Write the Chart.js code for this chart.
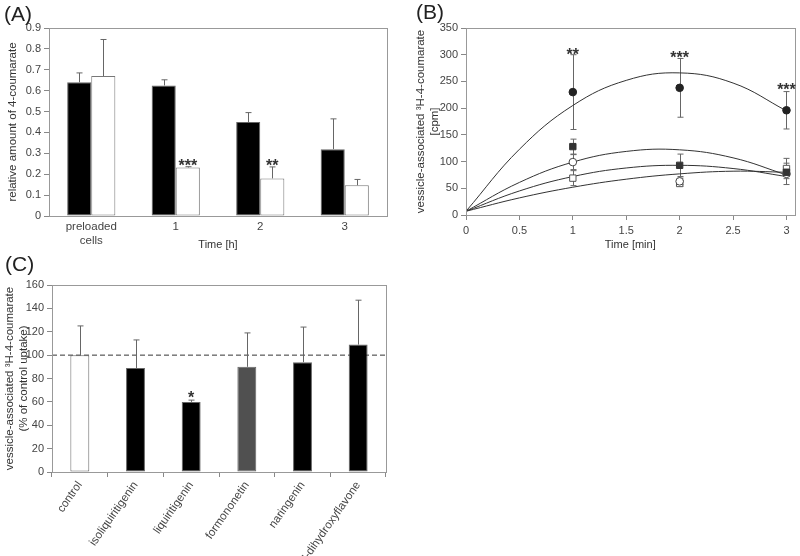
<!DOCTYPE html>
<html>
<head>
<meta charset="utf-8">
<script src="https://cdn.jsdelivr.net/npm/chart.js@4"></script>
<style>
  body { margin: 0; background: #fff; width: 800px; height: 556px; position: relative; overflow: hidden;
         font-family: "Liberation Sans", Arial, sans-serif; }
  canvas { position: absolute; }
  .lbl { position: absolute; font-size: 21px; color: #222; line-height: 1; }
</style>
</head>
<body>
<canvas id="chartA" width="400" height="262" style="left:0;top:0"></canvas>
<canvas id="chartB" width="400" height="262" style="left:400px;top:0"></canvas>
<canvas id="chartC" width="400" height="294" style="left:0;top:262px"></canvas>
<div class="lbl" style="left:4px;top:3px">(A)</div>
<div class="lbl" style="left:416px;top:1px">(B)</div>
<div class="lbl" style="left:5px;top:253px">(C)</div>
<script>
// (A) relative amount of 4-coumarate over time
const aLabels = [["preloaded", "cells"], "1", "2", "3"];
const aBlack = [0.64, 0.625, 0.45, 0.32];
const aBlackErr = [0.045, 0.027, 0.045, 0.145];
const aWhite = [0.67, 0.232, 0.18, 0.147];
const aWhiteErr = [0.175, 0.004, 0.055, 0.028];

// (B) vesicle uptake, cpm
const bTimes = [1, 2, 3];
const bFilledCircle = [230, 238, 196];
const bFilledCircleErr = [70, 55, 35];
const bFilledSquare = [128, 93, 80];
const bFilledSquareErr = [14, 21, 8];
const bOpenCircle = [99, 63, 77];
const bOpenCircleErr = [14, 6, 20];
const bOpenSquare = [69, 59, 87];
const bOpenSquareErr = [14, 5, 19];
const bFitX = [0, 0.5, 1, 1.5, 2, 2.5, 3];
const bFit1 = [7, 123, 205, 252, 266, 247, 195];
const bFit2 = [7, 61, 99, 119, 122, 107, 75];
const bFit3 = [7, 45, 72, 88, 93, 87, 72];
const bFit4 = [7, 32, 52, 67, 77, 82, 80];

// (C) % of control uptake
const cLabels = ["control", "isoliquiritigenin", "liquiritigenin", "formononetin", "naringenin", "7,4'-dihydroxyflavone"];
const cValues = [100, 89, 60, 90, 94, 109];
const cErr = [25, 24, 1.5, 29, 30, 38];
const cColors = ["#ffffff", "#000000", "#000000", "#505050", "#000000", "#000000"];
const cRefLine = 100;

Chart.defaults.font.family = '"Liberation Sans", Arial, sans-serif';
Chart.defaults.font.size = 11;
Chart.defaults.color = "#444";
Chart.defaults.animation = false;
Chart.defaults.plugins.legend.display = false;
Chart.defaults.plugins.tooltip.enabled = false;

const extras = {
  id: "extras",
  beforeDatasetsDraw(chart, args, opts) {
    const ctx = chart.ctx;
    const ys = chart.scales.y;
    const area = chart.chartArea;
    ctx.save();
    if (opts.refLine != null) {
      const py = ys.getPixelForValue(opts.refLine);
      ctx.strokeStyle = "#333";
      ctx.lineWidth = 1;
      ctx.setLineDash([5, 3]);
      ctx.beginPath();
      ctx.moveTo(area.left, py);
      ctx.lineTo(area.right, py);
      ctx.stroke();
      ctx.setLineDash([]);
    }
    ctx.strokeStyle = "#666";
    ctx.lineWidth = 1;
    (opts.errors || []).forEach(e => {
      const ds = chart.data.datasets[e.dataset];
      chart.getDatasetMeta(e.dataset).data.forEach((el, i) => {
        const raw = ds.data[i];
        const v = typeof raw === "object" ? raw.y : raw;
        const x = Math.round(el.x) + 0.5;
        const top = ys.getPixelForValue(v + e.err[i]);
        const bot = e.both ? ys.getPixelForValue(v - e.err[i]) : el.y;
        ctx.beginPath();
        ctx.moveTo(x, bot);
        ctx.lineTo(x, top);
        ctx.moveTo(x - 3, top);
        ctx.lineTo(x + 3, top);
        if (e.both) {
          ctx.moveTo(x - 3, bot);
          ctx.lineTo(x + 3, bot);
        }
        ctx.stroke();
      });
    });
    ctx.restore();
  },
  afterDatasetsDraw(chart, args, opts) {
    const ctx = chart.ctx;
    const a = chart.chartArea;
    ctx.save();
    ctx.strokeStyle = "#999";
    ctx.lineWidth = 1;
    ctx.strokeRect(Math.round(a.left) + 0.5, Math.round(a.top) + 0.5,
                   Math.round(a.right - a.left), Math.round(a.bottom - a.top));
    ctx.fillStyle = "#333";
    ctx.font = 'bold 16px "Liberation Sans", Arial, sans-serif';
    ctx.textAlign = "center";
    ctx.textBaseline = "middle";
    (opts.stars || []).forEach(s => {
      const x = s.dataset != null
        ? chart.getDatasetMeta(s.dataset).data[s.index].x
        : chart.scales.x.getPixelForValue(s.x);
      ctx.fillText(s.text, x, chart.scales.y.getPixelForValue(s.y));
    });
    ctx.restore();
  }
};

const tickGrid = { drawOnChartArea: false, tickLength: 5, color: "#888" };
const axisBorder = { color: "#888" };
const titleFont = { size: 11.5 };

// ---- (A)
new Chart(document.getElementById("chartA"), {
  type: "bar",
  data: {
    labels: aLabels,
    datasets: [
      { data: aBlack, backgroundColor: "#000", borderColor: "#666", borderWidth: 1, borderSkipped: false,
        barPercentage: 1, categoryPercentage: 0.57 },
      { data: aWhite, backgroundColor: "#fff", borderColor: "#777", borderWidth: 1, borderSkipped: false,
        barPercentage: 1, categoryPercentage: 0.57 }
    ]
  },
  options: {
    responsive: false,
    layout: { padding: { top: 28, right: 13, left: 0, bottom: 0 } },
    scales: {
      x: {
        grid: { display: false, drawTicks: false },
        border: axisBorder,
        ticks: { padding: 4, color: "#444", font: { size: 11.5 } },
        title: { display: true, text: "Time [h]", padding: { bottom: 10 }, color: "#333" },
        afterFit: s => { s.height = 46; }
      },
      y: {
        min: 0, max: 0.9,
        ticks: { stepSize: 0.1, padding: 3, callback: v => v === 0 ? "0" : v.toFixed(1) },
        grid: tickGrid,
        border: axisBorder,
        title: { display: true, text: "relative amount of 4-coumarate", padding: { top: 6 }, color: "#333", font: titleFont },
        afterFit: s => { s.width = 49; }
      }
    },
    plugins: {
      extras: {
        errors: [{ dataset: 0, err: aBlackErr }, { dataset: 1, err: aWhiteErr }],
        stars: [{ dataset: 1, index: 1, y: 0.235, text: "***" }, { dataset: 1, index: 2, y: 0.235, text: "**" }]
      }
    }
  },
  plugins: [extras]
});

// ---- (B)
const toPts = (xs, ys) => xs.map((x, i) => ({ x: x, y: ys[i] }));
const pointSet = (vals, style, fill, border) => ({
  type: "scatter", data: toPts(bTimes, vals), pointStyle: style, pointRadius: style === "rect" ? 4.5 : 3.8,
  backgroundColor: fill, borderColor: border, borderWidth: 1, showLine: false, order: 0
});
const fitSet = ys => ({
  type: "line", data: toPts(bFitX, ys), borderColor: "#333", borderWidth: 1, pointRadius: 0,
  tension: 0.4, fill: false, order: 1
});

new Chart(document.getElementById("chartB"), {
  type: "scatter",
  data: {
    datasets: [
      pointSet(bFilledCircle, "circle", "#222", "#222"),
      pointSet(bFilledSquare, "rect", "#333", "#333"),
      pointSet(bOpenCircle, "circle", "#fff", "#444"),
      pointSet(bOpenSquare, "rect", "#fff", "#555"),
      fitSet(bFit1), fitSet(bFit2), fitSet(bFit3), fitSet(bFit4)
    ]
  },
  options: {
    responsive: false,
    layout: { padding: { top: 28, right: 1, left: 0, bottom: 0 } },
    scales: {
      x: {
        type: "linear", min: 0, max: 3.075,
        ticks: { stepSize: 0.5, includeBounds: false, padding: 4, callback: v => String(+v.toFixed(1)) },
        grid: tickGrid,
        border: axisBorder,
        title: { display: true, text: "Time [min]", padding: { bottom: 10 }, color: "#333" },
        afterFit: s => { s.height = 47; }
      },
      y: {
        min: 0, max: 350,
        ticks: { stepSize: 50, padding: 3 },
        grid: tickGrid,
        border: axisBorder,
        title: { display: true, text: ["vessicle-associated \u00b3H-4-coumarate", "[cpm]"], padding: { top: 14 }, color: "#333", font: titleFont },
        afterFit: s => { s.width = 66; }
      }
    },
    plugins: {
      extras: {
        errors: [
          { dataset: 0, err: bFilledCircleErr, both: true },
          { dataset: 1, err: bFilledSquareErr, both: true },
          { dataset: 2, err: bOpenCircleErr, both: true },
          { dataset: 3, err: bOpenSquareErr, both: true }
        ],
        stars: [{ x: 1, y: 298, text: "**" }, { x: 2, y: 292, text: "***" }, { x: 3, y: 232, text: "***" }]
      }
    }
  },
  plugins: [extras]
});

// ---- (C)
new Chart(document.getElementById("chartC"), {
  type: "bar",
  data: {
    labels: cLabels,
    datasets: [
      { data: cValues, backgroundColor: cColors, borderColor: "#666", borderWidth: 1, borderSkipped: false,
        barPercentage: 0.34, categoryPercentage: 1 }
    ]
  },
  options: {
    responsive: false,
    layout: { padding: { top: 23, right: 14, left: 0, bottom: 0 } },
    scales: {
      x: {
        grid: tickGrid,
        border: axisBorder,
        ticks: { minRotation: 55, maxRotation: 55, padding: 2, autoSkip: false, font: { size: 11.5 } },
        afterFit: s => { s.height = 84; }
      },
      y: {
        min: 0, max: 160,
        ticks: { stepSize: 20, padding: 3 },
        grid: tickGrid,
        border: axisBorder,
        title: { display: true, text: ["vessicle-associated \u00b3H-4-coumarate", "(% of control uptake)"], padding: { top: 3 }, color: "#333", font: titleFont },
        afterFit: s => { s.width = 52; }
      }
    },
    plugins: {
      extras: {
        refLine: cRefLine,
        errors: [{ dataset: 0, err: cErr }],
        stars: [{ dataset: 0, index: 2, y: 62.5, text: "*" }]
      }
    }
  },
  plugins: [extras]
});
</script>
</body>
</html>
